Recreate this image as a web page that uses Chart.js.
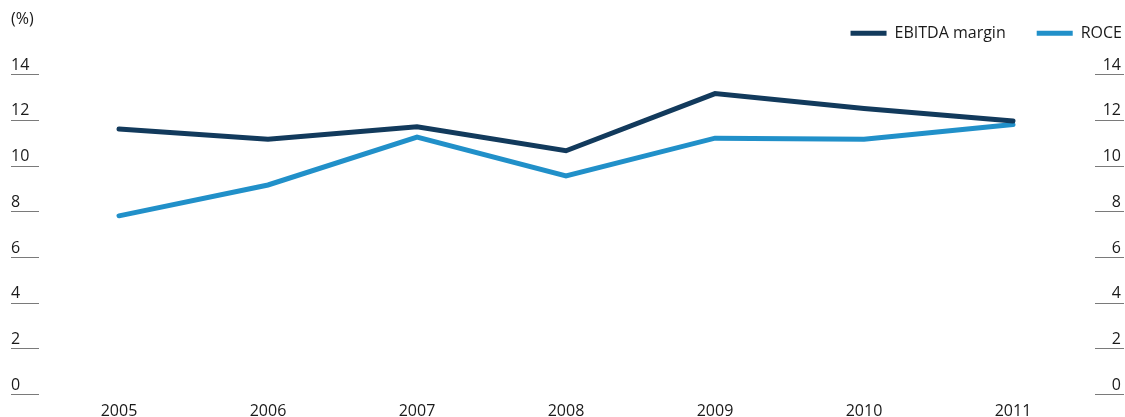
<!DOCTYPE html>
<html>
<head>
<meta charset="utf-8">
<script src="https://cdn.jsdelivr.net/npm/chart.js@4"></script>
<style>
  html, body { margin: 0; padding: 0; background: #ffffff; }
  #wrap { position: relative; width: 1125px; height: 417px; }
</style>
</head>
<body>
<div id="wrap"><canvas id="chart" width="1125" height="417"></canvas></div>
<script>
// values
const years = ["2005", "2006", "2007", "2008", "2009", "2010", "2011"];
const ebitdaMargin = [11.6, 11.15, 11.7, 10.65, 13.15, 12.5, 11.95];
const roce = [7.8, 9.15, 11.25, 9.55, 11.2, 11.15, 11.8];
const yTicks = [0, 2, 4, 6, 8, 10, 12, 14];

const FONT = "'Open Sans', 'Noto Sans', sans-serif";
const TEXT = "#1a1a1a";

// short rule under every y tick label, on both sides
const tickRules = {
    id: "tickRules",
    afterDraw(chart) {
        const ctx = chart.ctx;
        ctx.save();
        ctx.strokeStyle = "#7a7a7a";
        ctx.lineWidth = 1;
        for (let id of ["y", "y2"]) {
            const scale = chart.scales[id];
            scale.ticks.forEach((t, i) => {
                const y = Math.round(scale.getPixelForTick(i)) + 0.5;
                ctx.beginPath();
                if (id === "y") {
                    ctx.moveTo(scale.left, y);
                    ctx.lineTo(scale.left + 28, y);
                } else {
                    ctx.moveTo(scale.right - 26, y);
                    ctx.lineTo(scale.right + 3, y);
                }
                ctx.stroke();
            });
        }
        ctx.restore();
    }
};

// legend: keep the gap down to the plot, wide spacing between items, flush right
const legendSpacer = {
    id: "legendSpacer",
    afterInit(chart) {
        const legend = chart.legend;
        const fit = legend.fit;
        legend.fit = function () {
            fit.call(this);
            this.height = 58;
        };
    },
    afterLayout(chart) {
        const legend = chart.legend;
        legend.top -= 22;
        legend.right += 32;
    }
};

const yAxis = (position) => ({
    position: position,
    min: 0,
    max: 14,
    afterBuildTicks: (scale) => { scale.ticks = yTicks.map(v => ({ value: v })); },
    afterFit: (scale) => { scale.width = 108; },
    grid: { display: false, drawTicks: false },
    border: { display: false },
    ticks: {
        color: TEXT,
        font: { family: FONT, size: 16 },
        crossAlign: "far",
        labelOffset: -9,
        padding: 0
    }
});

new Chart(document.getElementById("chart").getContext("2d"), {
    type: "line",
    data: {
        labels: years,
        datasets: [
            {
                label: "EBITDA margin",
                data: ebitdaMargin,
                borderColor: "#123a5c",
                backgroundColor: "#123a5c",
                borderWidth: 5,
                borderCapStyle: "round",
                pointRadius: 0,
                tension: 0,
                clip: false
            },
            {
                label: "ROCE",
                data: roce,
                borderColor: "#2190c9",
                backgroundColor: "#2190c9",
                borderWidth: 5,
                borderCapStyle: "round",
                pointRadius: 0,
                tension: 0,
                clip: false
            }
        ]
    },
    options: {
        responsive: false,
        animation: false,
        layout: { padding: { left: 11, right: 4, top: 0, bottom: 0 } },
        scales: {
            x: {
                afterFit: (scale) => { scale.height = 23; },
                grid: { display: false },
                border: { display: false },
                ticks: {
                    color: TEXT,
                    font: { family: FONT, size: 16 },
                    padding: 0,
                    maxRotation: 0
                }
            },
            y: yAxis("left"),
            y2: yAxis("right")
        },
        plugins: {
            title: {
                display: true,
                text: "(%)",
                align: "start",
                color: TEXT,
                font: { family: FONT, size: 16, weight: "normal" },
                padding: { top: 10, bottom: -13 }
            },
            legend: {
                display: true,
                position: "top",
                align: "end",
                labels: {
                    color: TEXT,
                    font: { family: FONT, size: 16 },
                    boxWidth: 36,
                    boxHeight: 5,
                    useBorderRadius: true,
                    borderRadius: 2.5,
                    padding: 31,
                    generateLabels: (chart) => chart.data.datasets.map((ds, i) => ({
                        text: ds.label,
                        fillStyle: ds.borderColor,
                        strokeStyle: ds.borderColor,
                        lineWidth: 0,
                        fontColor: TEXT,
                        datasetIndex: i,
                        hidden: false
                    }))
                }
            },
            tooltip: { enabled: false }
        }
    },
    plugins: [tickRules, legendSpacer]
});
</script>
</body>
</html>
